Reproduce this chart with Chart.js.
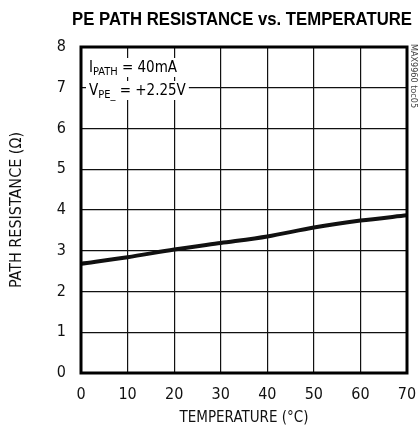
<!DOCTYPE html>
<html>
<head>
<meta charset="utf-8">
<script src="https://cdn.jsdelivr.net/npm/chart.js@4"></script>
<style>
  html, body { margin: 0; padding: 0; background: #fff; }
  #wrap { width: 418px; height: 431px; }
</style>
</head>
<body>
<div id="wrap"><canvas id="resChart" width="418" height="431"></canvas></div>
<script>
/* ── DADOS ── */
const temperatures = [0, 10, 20, 30, 40, 50, 60, 70];
const resistance = [2.68, 2.84, 3.03, 3.19, 3.35, 3.57, 3.74, 3.87];
const xTicks = [0, 10, 20, 30, 40, 50, 60, 70];
const yTicks = [0, 1, 2, 3, 4, 5, 6, 7, 8];

const FONT = '"Liberation Sans Narrow", "DejaVu Sans Condensed", "Liberation Sans", sans-serif';

/* ── TEXTOS EXTRAS ── */
const overlay = {
    id: 'overlay',
    afterDraw(chart) {
        const { ctx, chartArea: a } = chart;
        ctx.save();

        // moldura grossa
        ctx.strokeStyle = '#000';
        ctx.lineWidth = 3;
        ctx.strokeRect(a.left, a.top, a.right - a.left, a.bottom - a.top);

        // título (comprimido na horizontal)
        ctx.save();
        ctx.fillStyle = '#000';
        ctx.font = 'bold 19px "Liberation Sans", sans-serif';
        ctx.textAlign = 'center';
        ctx.textBaseline = 'middle';
        const title = 'PE PATH RESISTANCE vs. TEMPERATURE';
        const sx = 340 / ctx.measureText(title).width;
        ctx.translate(242, 20);
        ctx.scale(sx, 1);
        ctx.fillText(title, 0, 0);
        ctx.restore();

        // anotações com fundo branco
        ctx.textAlign = 'left';
        ctx.textBaseline = 'alphabetic';
        const drawSub = (x, y, parts) => {
            let w = 0;
            parts.forEach(p => {
                ctx.font = (p.sub ? '11px ' : '15px ') + FONT;
                w += ctx.measureText(p.t).width;
            });
            ctx.fillStyle = '#fff';
            ctx.fillRect(x - 3, y - 14, w + 6, 19);
            ctx.fillStyle = '#000';
            let cx = x;
            parts.forEach(p => {
                ctx.font = (p.sub ? '11px ' : '15px ') + FONT;
                ctx.fillText(p.t, cx, p.sub ? y + 3 : y);
                cx += ctx.measureText(p.t).width;
            });
        };
        drawSub(89, 72, [{ t: 'I' }, { t: 'PATH', sub: true }, { t: ' = 40mA' }]);
        drawSub(89, 95, [{ t: 'V' }, { t: 'PE_', sub: true }, { t: ' = +2.25V' }]);

        // código lateral
        ctx.translate(413, 76);
        ctx.rotate(Math.PI / 2);
        ctx.font = '9px ' + FONT;
        ctx.fillStyle = '#444';
        ctx.textAlign = 'center';
        ctx.textBaseline = 'middle';
        ctx.fillText('MAX9960 toc05', 0, 0);
        ctx.restore();
    }
};

/* ── GRÁFICO ── */
const ctx = document.getElementById('resChart');

new Chart(ctx, {
    type: 'line',
    data: {
        labels: temperatures,
        datasets: [{
            data: temperatures.map((t, i) => ({ x: t, y: resistance[i] })),
            borderColor: '#111',
            borderWidth: 4,
            pointRadius: 0,
            tension: 0.3,
            fill: false
        }]
    },
    options: {
        responsive: false,
        animation: false,
        layout: {
            padding: { top: 47, right: 11, left: 0, bottom: 0 }
        },
        plugins: {
            legend: { display: false },
            tooltip: { enabled: false }
        },
        scales: {
            x: {
                type: 'linear',
                min: 0,
                max: 70,
                afterBuildTicks: s => { s.ticks = xTicks.map(v => ({ value: v })); },
                afterFit: s => {
                    s.height = 58;
                    s.paddingLeft = 0;
                    s.paddingRight = 0;
                },
                grid: { color: '#111', lineWidth: 1.2, drawTicks: false },
                border: { display: false },
                ticks: {
                    color: '#111',
                    padding: 12,
                    font: { family: FONT, size: 16 }
                },
                title: {
                    display: true,
                    text: 'TEMPERATURE (°C)',
                    color: '#111',
                    font: { family: FONT, size: 15 },
                    padding: { top: 4 }
                }
            },
            y: {
                min: 0,
                max: 8,
                afterBuildTicks: s => { s.ticks = yTicks.map(v => ({ value: v })); },
                afterFit: s => { s.width = 81; },
                grid: { color: '#111', lineWidth: 1.2, drawTicks: false },
                border: { display: false },
                ticks: {
                    color: '#111',
                    padding: 15,
                    font: { family: FONT, size: 16 }
                },
                title: {
                    display: true,
                    text: 'PATH RESISTANCE (Ω)',
                    color: '#111',
                    font: { family: FONT, size: 16 },
                    padding: { top: 7, bottom: 0 }
                }
            }
        }
    },
    plugins: [overlay]
});
</script>
</body>
</html>
